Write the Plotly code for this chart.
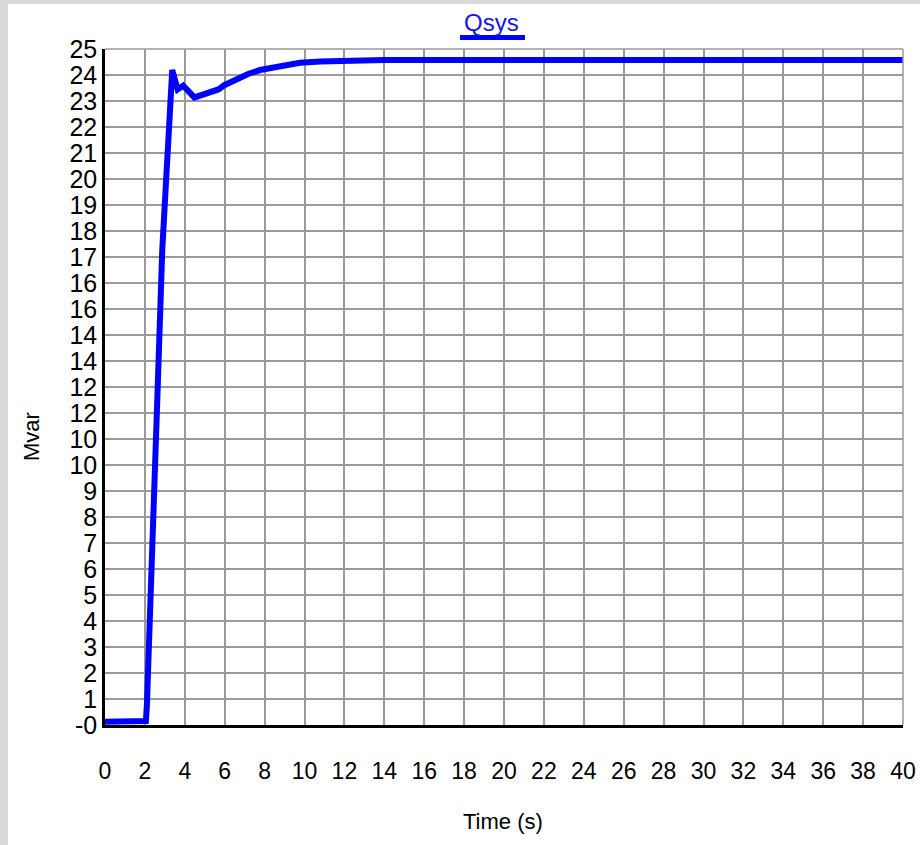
import plotly.graph_objects as go

# Data (time in s, reactive power in Mvar)
time_s = [0.0, 1.0, 2.0, 2.05, 2.1, 2.26, 2.38, 2.56, 2.62, 2.87, 3.08, 3.34, 3.37,
          3.64, 3.92, 4.48, 5.68, 6.0, 6.6, 7.2, 7.77, 8.8, 9.77, 10.8, 11.8, 13.0, 14.0, 20.0, 30.0, 40.0]
qsys = [-0.08, -0.08, -0.08, -0.05, 0.55, 3.75, 6.38, 9.57, 12.0, 17.65, 20.84, 24.2, 24.41,
        23.68, 23.82, 23.38, 23.68, 23.85, 24.09, 24.27, 24.41, 24.56, 24.68, 24.73, 24.76, 24.78, 24.79, 24.79, 24.79, 24.79]

y_min, y_max = -0.2, 25.2
n_grid = 26
y_tick_text = ["-0", "1", "2", "3", "4", "5", "6", "7", "8", "9", "10", "10", "12", "12",
               "14", "14", "16", "16", "17", "18", "19", "20", "21", "22", "23", "24", "25"]
y_tick_vals = [y_min + i * (y_max - y_min) / n_grid for i in range(n_grid + 1)]
x_tick_vals = list(range(0, 41, 2))

FONT = "Arial, Liberation Sans, sans-serif"

fig = go.Figure()
fig.add_trace(go.Scatter(x=time_s, y=qsys, mode="lines",
                         line=dict(color="#0000ff", width=6), name="Qsys",
                         showlegend=False))

W, H = 920, 845
L, R, T, B = 105, 17, 49, 120
pw, ph = W - L - R, H - T - B

def px(x):
    return (x - L) / pw

def py(y):
    return (H - B - y) / ph

fig.update_layout(
    width=W, height=H,
    margin=dict(l=L, r=R, t=T, b=B, autoexpand=False),
    paper_bgcolor="white", plot_bgcolor="white",
    font=dict(family=FONT, color="black"),
    xaxis=dict(range=[0, 40], tickvals=x_tick_vals, showgrid=True, gridcolor="#9a9a9a",
               gridwidth=1.5, showline=True, linecolor="black", linewidth=2.5,
               zeroline=False, ticks="", tickfont=dict(size=23, family=FONT),
               ticklabelstandoff=24, mirror=False, automargin=False),
    yaxis=dict(range=[y_min, y_max], tickvals=y_tick_vals, ticktext=y_tick_text,
               showgrid=True, gridcolor="#9a9a9a", gridwidth=1.5, showline=True,
               linecolor="black", linewidth=2.5, zeroline=False, ticks="",
               tickfont=dict(size=25, family=FONT), ticklabelstandoff=0, automargin=False),
    shapes=[
        dict(type="rect", xref="paper", yref="paper", x0=px(0), x1=px(8), y0=py(H), y1=py(0),
             fillcolor="#d9d9d9", line=dict(width=0), layer="below"),
        dict(type="rect", xref="paper", yref="paper", x0=px(0), x1=px(W), y0=py(4), y1=py(0),
             fillcolor="#d9d9d9", line=dict(width=0), layer="below"),
        dict(type="line", xref="paper", yref="paper", x0=px(460), x1=px(525), y0=py(37.5), y1=py(37.5),
             line=dict(color="#0000ff", width=5)),
        dict(type="line", xref="paper", yref="paper", x0=0, x1=1, y0=1, y1=1,
             line=dict(color="#9a9a9a", width=1.5)),
        dict(type="line", xref="paper", yref="paper", x0=1, x1=1, y0=0, y1=1,
             line=dict(color="#9a9a9a", width=1.5)),
    ],
    annotations=[
        dict(text="Qsys", xref="paper", yref="paper", x=px(491), y=py(22), showarrow=False,
             font=dict(size=24, color="#1414e6", family=FONT), xanchor="center", yanchor="middle"),
        dict(text="Mvar", xref="paper", yref="paper", x=px(31), y=py(437), showarrow=False,
             textangle=-90, font=dict(size=22, family=FONT), xanchor="center", yanchor="middle"),
        dict(text="Time (s)", xref="paper", yref="paper", x=px(503), y=py(822), showarrow=False,
             font=dict(size=22, family=FONT), xanchor="center", yanchor="middle"),
    ],
)

fig.write_html("out.html", config={"displayModeBar": False, "responsive": False},
               post_script="document.body.style.margin='0';document.body.style.overflow='hidden';")
